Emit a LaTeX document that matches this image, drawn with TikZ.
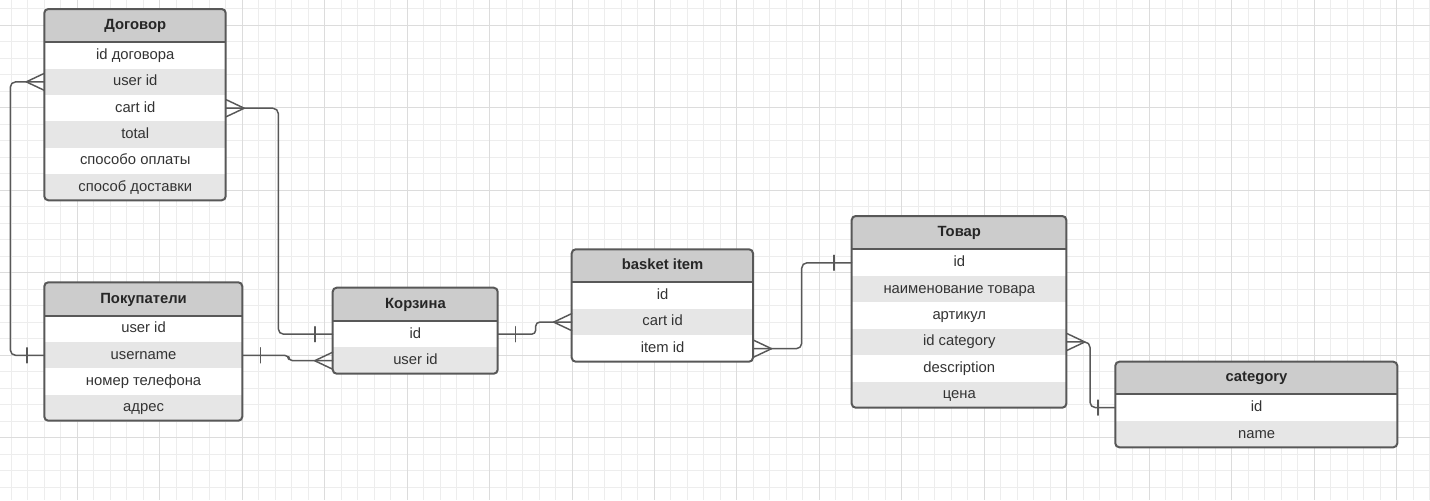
\documentclass[tikz,border=0pt]{standalone}
\usepackage{fontspec}
\setmainfont{Liberation Sans}
\usetikzlibrary{calc}
\definecolor{gridminor}{HTML}{EDEDED}
\definecolor{gridmajor}{HTML}{DCDCDC}
\definecolor{hdrfill}{HTML}{CCCCCC}
\definecolor{rowgrey}{HTML}{E6E6E6}
\definecolor{edge}{HTML}{585858}
\definecolor{txt}{HTML}{333333}
\tikzset{
 cell/.style={inner sep=0pt, anchor=north west, text=txt, font=\fontsize{11.1pt}{13pt}\selectfont, text height=8pt, text depth=2.2pt},
 hdr/.style={cell, fill=hdrfill, font=\fontsize{11.1pt}{13pt}\selectfont\bfseries, text=black!85},
 frame/.style={draw=edge, line width=1.5pt, rounded corners=3pt},
 conn/.style={draw=edge, line width=1.1pt, line cap=round, line join=round},
}
% name, left, top, right, header bottom, bottom, rows, title, row texts
\newcommand\erdtable[9]{%
 \begin{scope}
 \clip[rounded corners=3pt] (#2,#3) rectangle (#4,#6);
 \node[hdr, minimum width={(#4-#2)*0.75pt}, minimum height={(#5-#3)*0.75pt}] (#1) at (#2,#3) {#8};
 \foreach \t [count=\k] in {#9} {
   \ifodd\k\relax\def\rf{white}\else\def\rf{rowgrey}\fi
   \node[cell, fill=\rf, minimum width={(#4-#2)*0.75pt}, minimum height={(#6-#5)/#7*0.75pt}] (#1-\k) at ({#2},{#5+(\k-1)*(#6-#5)/#7}) {\t};
 }
 \end{scope}
 \draw[frame] (#2,#3) rectangle (#4,#6);
 \draw[draw=edge, line width=1.5pt] (#2,#5) -- (#4,#5);
}
\newcommand\manyW[1]{\draw[conn] ($(#1)+(0,-8.5)$) -- ($(#1)+(-18,0)$) -- ($(#1)+(0,8.5)$);}
\newcommand\manyE[1]{\draw[conn] ($(#1)+(0,-8.5)$) -- ($(#1)+(18,0)$) -- ($(#1)+(0,8.5)$);}
\newcommand\oneW[1]{\draw[conn] ($(#1)+(-17.5,-7.5)$) -- ($(#1)+(-17.5,7.5)$);}
\newcommand\oneE[1]{\draw[conn] ($(#1)+(17.5,-7.5)$) -- ($(#1)+(17.5,7.5)$);}
\begin{document}
\begin{tikzpicture}[x=0.75pt,y=-0.75pt]
\useasboundingbox (0,0) rectangle (1430,500);
\fill[white] (0,0) rectangle (1430,500);
% grid
\foreach \i in {0,...,86} \draw[gridminor, line width=0.75pt] ({11.34+16.49*\i},0) -- ++(0,500);
\foreach \j in {0,...,29} \draw[gridminor, line width=0.75pt] (0,{8.81+16.49*\j}) -- ++(1430,0);
\foreach \i in {1,...,17} \draw[gridmajor, line width=0.75pt] ({-5.15+82.45*\i},0) -- ++(0,500);
\foreach \j in {0,...,5} \draw[gridmajor, line width=0.75pt] (0,{25.3+82.45*\j}) -- ++(1430,0);
% tables
\erdtable{dog}{44.3}{9}{225.7}{42}{200.3}{6}{Договор}{id договора, user id, cart id, total, способо оплаты, способ доставки}
\erdtable{pok}{44.3}{282.3}{242.3}{315.7}{420.7}{4}{Покупатели}{user id, username, номер телефона, адрес}
\erdtable{korz}{332.7}{287.7}{497.7}{320.7}{373.7}{2}{Корзина}{id, user id}
\erdtable{bask}{571.7}{249.3}{753}{282}{361.7}{3}{basket item}{id, cart id, item id}
\erdtable{tov}{851.7}{216}{1066.3}{249.3}{407.7}{6}{Товар}{id, наименование товара, артикул, id category, description, цена}
\erdtable{cat}{1115.3}{361.7}{1397.3}{394}{447.3}{2}{category}{id, name}
% connectors
\draw[conn, rounded corners=4] (dog-2.west) -- ++(-34,0) |- (pok-2.west);
\manyW{dog-2.west} \oneW{pok-2.west}
\draw[conn, rounded corners=4] (dog-3.east) -| ($(korz-1.west)+(-54.4,0)$) -- (korz-1.west);
\manyE{dog-3.east} \oneW{korz-1.west}
\draw[conn, rounded corners=3] (pok-2.east) -| ($(korz-2.west)+(-44,0)$) -- (korz-2.west);
\oneE{pok-2.east} \manyW{korz-2.west}
\draw[conn, rounded corners=3] (korz-1.east) -| ($(bask-2.west)+(-36,0)$) -- (bask-2.west);
\oneE{korz-1.east} \manyW{bask-2.west}
\draw[conn, rounded corners=4] (bask-3.east) -| ($(tov-1.west)+(-50,0)$) -- (tov-1.west);
\manyE{bask-3.east} \oneW{tov-1.west}
\draw[conn, rounded corners=4] (tov-4.east) -| ($(cat-1.west)+(-25.3,0)$) -- (cat-1.west);
\manyE{tov-4.east} \oneW{cat-1.west}
\end{tikzpicture}
\end{document}
